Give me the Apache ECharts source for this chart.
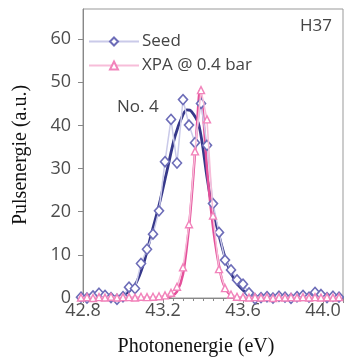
<!DOCTYPE html>
<html>
<head>
<meta charset="utf-8">
<script src="https://cdn.jsdelivr.net/npm/echarts@6/dist/echarts.min.js"></script>
<style>
    html, body { margin: 0; padding: 0; background: #fff; }
    #mychart { width: 344px; height: 360px; }
</style>
</head>
<body>
<div id="mychart"></div>
<script>
// measured photon energies (eV), same grid for both data sets
var energies = [42.79, 42.82, 42.85, 42.88, 42.91, 42.94, 42.97, 43.00, 43.03, 43.06,
    43.09, 43.12, 43.15, 43.18, 43.21, 43.24, 43.27, 43.30, 43.33, 43.36,
    43.39, 43.42, 43.45, 43.48, 43.51, 43.54, 43.57, 43.60, 43.63, 43.66,
    43.69, 43.72, 43.75, 43.78, 43.81, 43.84, 43.87, 43.90, 43.93, 43.96,
    43.99, 44.02, 44.05, 44.08];

var seedValues = [0.2, 0.0, 0.5, 1.1, 0.6, 0.1, -0.3, 0.3, 2.5, 2.2,
    8.0, 11.3, 14.8, 20.2, 31.6, 41.4, 31.3, 46.0, 40.1, 36.0,
    45.1, 35.4, 21.9, 15.2, 8.8, 6.5, 4.2, 3.2, 1.2, -0.2,
    0.1, 0.3, 0.0, 0.4, 0.2, -0.1, 0.3, 0.6, 0.2, 1.3,
    0.8, 0.1, 0.4, 0.2];

var xpaValues = [0.1, 0.2, 0.0, 0.2, 0.1, 0.3, 0.1, 0.2, 0.2, 0.1,
    0.3, 0.2, 0.3, 0.4, 0.6, 1.2, 2.6, 7.1, 17.1, 34.0,
    48.2, 41.4, 19.1, 6.7, 2.3, 0.8, 0.3, 0.2, 0.1, 0.2,
    0.1, 0.2, 0.0, 0.2, 0.1, 0.2, 0.1, 0.2, 0.1, 0.2,
    0.1, 0.2, 0.1, 0.2];

// fitted curves
var seedFitX = [42.79, 42.90, 42.98, 43.02, 43.06, 43.10, 43.14, 43.18, 43.22, 43.26,
    43.30, 43.32, 43.34, 43.38, 43.42, 43.44, 43.48, 43.52, 43.56, 43.60,
    43.64, 43.70, 44.10];
var seedFitY = [0, 0, 0.3, 1.2, 3.0, 7.5, 14.5, 21.5, 29.5, 37.5,
    42.5, 43.6, 43.4, 40.0, 28.0, 22.5, 14.5, 8.0, 4.0, 1.8,
    0.6, 0, 0];

var xpaFitX = [42.79, 43.18, 43.24, 43.27, 43.30, 43.33, 43.35, 43.37, 43.385, 43.40,
    43.42, 43.44, 43.46, 43.48, 43.50, 43.53, 43.57, 43.62, 44.10];
var xpaFitY = [0, 0, 0.4, 1.5, 5.5, 16.5, 27.4, 40.0, 48.3, 43.0,
    30.0, 20.5, 13.0, 7.5, 3.5, 1.0, 0.2, 0, 0];

var xTicks = {min: 42.8, max: 44.1, step: 0.4};
var yTicks = {min: 0, max: 67, step: 10};

function pairs(xs, ys) {
    var out = [];
    for (var i = 0; i < xs.length; i++) {
        out.push([xs[i], ys[i]]);
    }
    return out;
}

var tickFont = {fontFamily: 'Open Sans', fontSize: 18, color: '#4d4d4d'};

var option = {
    animation: false,
    grid: {
        left: 83,
        right: 1,
        top: 9,
        bottom: 62,
        show: true,
        borderColor: '#999',
        borderWidth: 1
    },
    legend: {
        orient: 'vertical',
        left: 88,
        top: 33,
        itemWidth: 50,
        itemHeight: 10,
        itemGap: 7,
        padding: 0,
        data: ['Seed', 'XPA @ 0.4 bar'],
        textStyle: {fontFamily: 'Open Sans', fontSize: 17, color: '#444', padding: [0, 0, 0, -2]}
    },
    xAxis: {
        type: 'value',
        min: xTicks.min,
        max: xTicks.max,
        interval: xTicks.step,
        axisLine: {onZero: false, lineStyle: {color: '#888'}},
        axisTick: {show: true, length: 5, lineStyle: {color: '#888'}},
        minorTick: {show: true, splitNumber: 8, length: 3, lineStyle: {color: '#888'}},
        splitLine: {show: false},
        axisLabel: {
            margin: 4,
            showMaxLabel: false,
            fontFamily: tickFont.fontFamily,
            fontSize: tickFont.fontSize,
            color: tickFont.color,
            formatter: function (v) { return v.toFixed(1); }
        }
    },
    yAxis: {
        type: 'value',
        min: yTicks.min,
        max: yTicks.max,
        interval: yTicks.step,
        axisLine: {show: true, lineStyle: {color: '#888'}},
        axisTick: {show: true, length: 5, lineStyle: {color: '#888'}},
        splitLine: {show: false},
        axisLabel: {
            margin: 12,
            showMaxLabel: false,
            fontFamily: tickFont.fontFamily,
            fontSize: tickFont.fontSize,
            color: tickFont.color
        }
    },
    graphic: [
        {
            type: 'text',
            style: {
                text: 'Photonenergie (eV)', x: 196, y: 347,
                textAlign: 'center', textVerticalAlign: 'middle',
                fontFamily: 'Liberation Serif', fontSize: 20, fill: '#111'
            }
        },
        {
            type: 'text', x: 21, y: 155, rotation: Math.PI / 2,
            style: {
                text: 'Pulsenergie (a.u.)', x: 0, y: 0,
                textAlign: 'center', textVerticalAlign: 'middle',
                fontFamily: 'Liberation Serif', fontSize: 20, fill: '#111'
            }
        },
        {
            type: 'text',
            style: {
                text: 'H37', x: 332, y: 26,
                textAlign: 'right', textVerticalAlign: 'middle',
                fontFamily: 'Open Sans', fontSize: 17, fill: '#444'
            }
        },
        {
            type: 'text',
            style: {
                text: 'No. 4', x: 117, y: 107,
                textAlign: 'left', textVerticalAlign: 'middle',
                fontFamily: 'Open Sans', fontSize: 17, fill: '#444'
            }
        }
    ],
    series: [
        {
            name: 'Seed fit',
            type: 'line',
            data: pairs(seedFitX, seedFitY),
            smooth: 0.3,
            showSymbol: false,
            clip: false,
            lineStyle: {color: '#36388a', width: 2.8},
            z: 3
        },
        {
            name: 'XPA fit',
            type: 'line',
            data: pairs(xpaFitX, xpaFitY),
            smooth: 0.3,
            showSymbol: false,
            clip: false,
            lineStyle: {color: '#e4509a', width: 2.5},
            z: 4
        },
        {
            name: 'Seed',
            type: 'line',
            data: pairs(energies, seedValues),
            clip: false,
            symbol: 'diamond',
            symbolSize: [9, 10],
            lineStyle: {color: '#cacae9', width: 1.5},
            itemStyle: {color: '#fff', borderColor: '#6d6db8', borderWidth: 1.6},
            z: 5
        },
        {
            name: 'XPA @ 0.4 bar',
            type: 'line',
            data: pairs(energies, xpaValues),
            clip: false,
            symbol: 'triangle',
            symbolSize: 7,
            lineStyle: {color: '#f7bdd9', width: 1.5},
            itemStyle: {color: '#fff', borderColor: '#f283bb', borderWidth: 1.4},
            z: 6
        }
    ]
};

var mychart = echarts.init(document.getElementById('mychart'));
mychart.setOption(option);
</script>
</body>
</html>
